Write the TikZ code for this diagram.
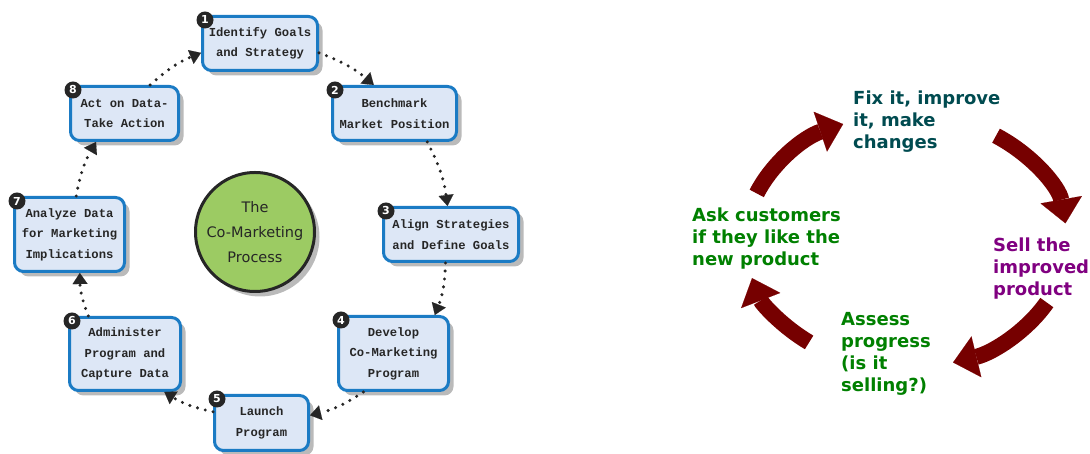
\documentclass[tikz,border=0pt]{standalone}
\usepackage{fontspec}
\setmainfont{DejaVu Sans}
\newfontfamily\boxfont{Liberation Mono}
\newfontfamily\cyclefont{DejaVu Sans}
\usetikzlibrary{arrows.meta,shadows}
\definecolor{boxfill}{HTML}{DDE7F6}
\definecolor{boxline}{HTML}{1B7BC4}
\definecolor{discfill}{HTML}{9CCB63}
\definecolor{arrowred}{HTML}{760000}
\definecolor{tealtxt}{HTML}{004B50}
\definecolor{greentxt}{HTML}{008000}
\definecolor{purpletxt}{HTML}{800080}
\begin{document}
\begin{tikzpicture}[x=1pt,y=1pt,
  stepbox/.style={draw=boxline, line width=3pt, fill=boxfill, rounded corners=9pt,
    inner sep=0pt, align=center, text=black!85,
    font=\boxfont\bfseries\fontsize{12.2}{20.5}\selectfont,
    drop shadow={shadow xshift=5pt, shadow yshift=-5pt, fill=black!45, opacity=0.6}},
  badge/.style={circle, fill=black!85, text=white, inner sep=0pt, minimum size=17pt,
    font=\cyclefont\bfseries\fontsize{11}{11}\selectfont},
  conn/.style={draw=black!85, line width=3.4pt, line cap=round,
    dash pattern=on 0pt off 8pt,
    -{Triangle[length=11pt,width=15pt,line width=0.1pt]}},
  cyc/.style={draw=arrowred, line width=16pt,
    -{Triangle[length=24pt,width=42pt,line width=0.1pt]}},
  cyctext/.style={anchor=north west, inner sep=0pt, align=left,
    font=\cyclefont\bfseries\fontsize{18}{22}\selectfont}
]
\useasboundingbox (0,0) rectangle (1090,454);

% ---- left: co-marketing process ----
\node[circle, draw=black!85, line width=3pt, fill=discfill, minimum size=119pt,
  inner sep=0pt, align=center, text=black!85,
  font=\cyclefont\fontsize{14.5}{25}\selectfont,
  drop shadow={shadow xshift=5pt, shadow yshift=-5pt, fill=black!45, opacity=0.6}]
  (hub) at (255,222) {The\\Co-Marketing\\Process};

\node[stepbox, minimum width=115pt, minimum height=54pt] (b1) at (260,410.5) {Identify Goals\\and Strategy};
\node[stepbox, minimum width=124pt, minimum height=54pt] (b2) at (394.5,340.5) {Benchmark\\Market Position};
\node[stepbox, minimum width=135pt, minimum height=54pt] (b3) at (451,219.5) {Align Strategies\\and Define Goals};
\node[stepbox, minimum width=110pt, minimum height=74pt] (b4) at (393.5,100.5) {Develop\\Co-Marketing\\Program};
\node[stepbox, minimum width=94pt, minimum height=55pt] (b5) at (261.5,31) {Launch\\Program};
\node[stepbox, minimum width=111pt, minimum height=73pt] (b6) at (125,100) {Administer\\Program and\\Capture Data};
\node[stepbox, minimum width=110pt, minimum height=74pt] (b7) at (69.5,219.5) {Analyze Data\\for Marketing\\Implications};
\node[stepbox, minimum width=108pt, minimum height=54pt] (b8) at (124.5,340.5) {Act on Data-\\Take Action};

\node[badge] (n1) at ([shift={(4,-5)}]b1.north west) {1};
\node[badge] (n2) at ([shift={(4,-5)}]b2.north west) {2};
\node[badge] (n3) at ([shift={(4,-5)}]b3.north west) {3};
\node[badge] (n4) at ([shift={(4,-5)}]b4.north west) {4};
\node[badge] (n5) at ([shift={(4,-5)}]b5.north west) {5};
\node[badge] (n6) at ([shift={(4,-5)}]b6.north west) {6};
\node[badge] (n7) at ([shift={(4,-5)}]b7.north west) {7};
\node[badge] (n8) at ([shift={(4,-5)}]b8.north west) {8};

\draw[conn] (b1.-9) to[bend left=10] (b2.126);
\draw[conn] (b2.-41) to[bend left=10] (b3.97);
\draw[conn] (b3.-101) to[bend left=10] (b4.43);
\draw[conn] (b4.-128) to[bend left=10] (b5.9);
\draw[conn] (b5.167) to[bend left=10] (b6.-44);
\draw[conn] (b6.134) to[bend left=10] (b7.-75);
\draw[conn] (b7.80) to[bend left=10] (b8.-135);
\draw[conn] (b8.48) to[bend left=10] (b1.189);

% ---- right: improvement cycle ----
\coordinate (cc) at (906,213);
\draw[cyc] (cc) ++(158:161 and 127) arc[start angle=158, end angle=113, x radius=161, y radius=127];
\draw[cyc] (cc) ++(56:161 and 127) arc[start angle=56, end angle=8, x radius=161, y radius=127];
\draw[cyc] (cc) ++(-29:161 and 127) arc[start angle=-29, end angle=-73, x radius=161, y radius=127];
\draw[cyc] (cc) ++(-127:161 and 127) arc[start angle=-127, end angle=-163, x radius=161, y radius=127];

\node[cyctext, text=tealtxt] (fix) at (853,363.7) {Fix it, improve\\it, make\\changes};
\node[cyctext, text=greentxt] (ask) at (692,246.7) {Ask customers\\if they like the\\new product};
\node[cyctext, text=purpletxt] (sell) at (993,216.7) {Sell the\\improved\\product};
\node[cyctext, text=greentxt] (assess) at (841,142.1) {Assess\\progress\\(is it\\selling?)};
\end{tikzpicture}
\end{document}
